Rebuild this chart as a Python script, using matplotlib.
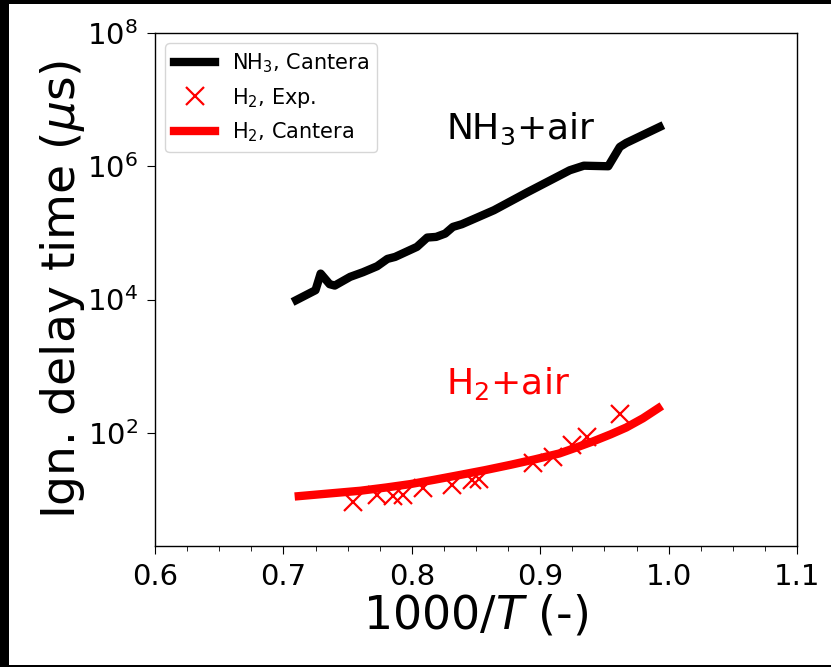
import matplotlib
matplotlib.use("Agg")
import matplotlib.pyplot as plt
from matplotlib.patches import Rectangle
from matplotlib.ticker import MultipleLocator, NullLocator

# NH3 + air, Cantera ignition delay (us)
nh3_x = [0.710, 0.721, 0.725, 0.729, 0.736, 0.740, 0.752, 0.762, 0.773, 0.781,
         0.787, 0.804, 0.812, 0.819, 0.826, 0.832, 0.839, 0.864, 0.890, 0.905,
         0.923, 0.934, 0.953, 0.962, 0.967, 0.993]
nh3_tau = [9.8e3, 1.26e4, 1.38e4, 2.45e4, 1.70e4, 1.62e4, 2.19e4, 2.57e4, 3.16e4, 4.07e4,
           4.36e4, 6.17e4, 8.51e4, 8.71e4, 9.77e4, 1.23e5, 1.35e5, 2.19e5, 4.07e5, 5.75e5,
           8.71e5, 1.02e6, 1.00e6, 1.95e6, 2.24e6, 3.89e6]

# H2 + air, Cantera
h2_x = [0.712, 0.736, 0.760, 0.780, 0.799, 0.818, 0.838, 0.857, 0.877, 0.896,
        0.915, 0.928, 0.941, 0.955, 0.967, 0.980, 0.992]
h2_tau = [11.2, 12.3, 13.5, 15.1, 17.0, 19.8, 23.4, 27.5, 33.1, 40.0,
          49.0, 60.0, 74.1, 95.0, 120.0, 165.0, 234.0]

# H2 + air, experiments
exp_x = [0.7545, 0.7727, 0.7856, 0.7934, 0.809, 0.831, 0.8466, 0.852,
         0.8946, 0.9102, 0.9245, 0.9361, 0.9621]
exp_tau = [9.2, 11.6, 11.2, 11.6, 14.7, 16.4, 19.5, 20.5,
           35.5, 43.7, 65.0, 87.0, 190.0]

fig = plt.figure(figsize=(8.31, 6.67), dpi=100, facecolor="black")
fig.patches.append(Rectangle((9 / 831, 2 / 667), 1.0, 661 / 667,
                             transform=fig.transFigure, facecolor="white",
                             edgecolor="none", zorder=-10))
ax = fig.add_axes([155 / 831, 121 / 667, 642 / 831, 513 / 667])

ax.plot(nh3_x, nh3_tau, color="black", lw=6, label=r"NH$_3$, Cantera")
ax.plot(exp_x, exp_tau, "x", color="red", ms=13, mew=1.6, label=r"H$_2$, Exp.")
ax.plot(h2_x, h2_tau, color="red", lw=6, label=r"H$_2$, Cantera")

ax.text(0.8266, 2.55e6, r"NH$_3$+air", fontsize=26, color="black")
ax.text(0.8270, 380, r"H$_2$+air", fontsize=26, color="red")

ax.set_yscale("log")
ax.set_xlim(0.6, 1.1)
ax.set_ylim(2, 1e8)
ax.set_yticks([1e2, 1e4, 1e6, 1e8])
ax.yaxis.set_minor_locator(NullLocator())
ax.xaxis.set_major_locator(MultipleLocator(0.1))
ax.xaxis.set_minor_locator(MultipleLocator(0.025))
ax.tick_params(which="major", labelsize=21, length=6, pad=6)
ax.tick_params(which="minor", length=3.5)
for s in ax.spines.values():
    s.set_linewidth(1.0)

ax.set_xlabel(r"1000/$T$ (-)", fontsize=33, labelpad=2)
ax.set_ylabel(r"Ign. delay time ($\mu$s)", fontsize=34, labelpad=0)
ax.legend(loc="upper left", fontsize=15)

fig.savefig("out.png", dpi=100, facecolor=fig.get_facecolor())
